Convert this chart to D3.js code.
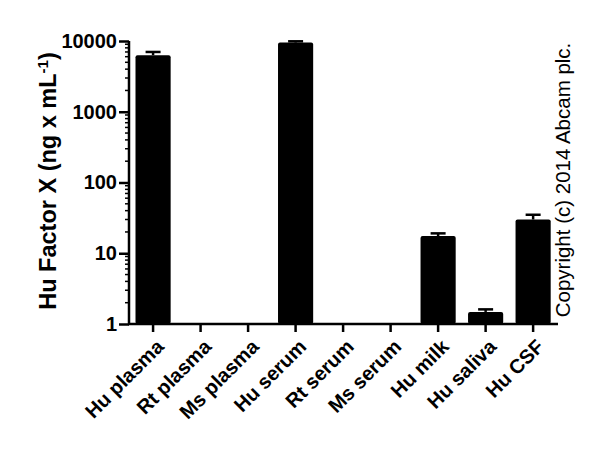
<!DOCTYPE html>
<html>
<head>
<meta charset="utf-8">
<script src="https://cdn.jsdelivr.net/npm/d3@7"></script>
<style>
  body { margin: 0; background: #fff; }
  svg { display: block; font-family: "Liberation Sans", Arial, sans-serif; }
</style>
</head>
<body>
<svg id="chart" width="600" height="452"></svg>
<script>
// data (ng/mL), null = below 1, no bar
const samples = ["Hu plasma", "Rt plasma", "Ms plasma", "Hu serum", "Rt serum", "Ms serum", "Hu milk", "Hu saliva", "Hu CSF"];
const means = [6300, null, null, 9500, null, null, 17.5, 1.48, 30];
const errs = [700, null, null, 400, null, null, 1.6, 0.13, 5];
const yTicks = [1, 10, 100, 1000, 10000];

const svg = d3.select("#chart");

const x = d3.scaleBand()
    .domain(samples)
    .range([135.5, 550.7])
    .paddingInner(0.26)
    .paddingOuter(0);

const y = d3.scaleLog()
    .domain([1, 10000])
    .range([324, 41]);

const rows = samples.map((s, i) => ({ name: s, v: means[i], e: errs[i] }))
    .filter(d => d.v != null);

// bars
svg.append("g")
    .selectAll("rect")
    .data(rows)
    .join("rect")
    .attr("x", d => x(d.name))
    .attr("y", d => y(d.v))
    .attr("width", x.bandwidth())
    .attr("height", d => y(1) - y(d.v))
    .attr("rx", 2)
    .style("fill", "#000");

// error bars, upper half only
const eb = svg.append("g").attr("stroke", "#000").attr("stroke-width", 2.5);
eb.selectAll("line.stem")
    .data(rows)
    .join("line")
    .attr("class", "stem")
    .attr("x1", d => x(d.name) + x.bandwidth() / 2)
    .attr("x2", d => x(d.name) + x.bandwidth() / 2)
    .attr("y1", d => y(d.v))
    .attr("y2", d => y(d.v + d.e));
eb.selectAll("line.cap")
    .data(rows)
    .join("line")
    .attr("class", "cap")
    .attr("x1", d => x(d.name) + x.bandwidth() / 2 - 7.5)
    .attr("x2", d => x(d.name) + x.bandwidth() / 2 + 7.5)
    .attr("y1", d => y(d.v + d.e))
    .attr("y2", d => y(d.v + d.e));

// y axis
const yAxis = svg.append("g")
    .attr("transform", "translate(129,0)")
    .call(d3.axisLeft(y).tickValues(yTicks).tickFormat(d3.format("d")).tickSize(10).tickPadding(2));
yAxis.select(".domain").attr("d", "M0,41V324").attr("stroke-width", 2.5);
yAxis.selectAll(".tick line").attr("stroke-width", 2.5);
yAxis.selectAll(".tick text")
    .style("font-size", "20px")
    .style("font-weight", "bold")
    .style("font-family", "'Liberation Sans', Arial, sans-serif")
    .attr("fill", "#000");

// minor log ticks
const minor = [];
yTicks.slice(0, -1).forEach(t => { for (let k = 2; k <= 9; k++) minor.push(t * k); });
svg.append("g")
    .selectAll("line")
    .data(minor)
    .join("line")
    .attr("x1", 125)
    .attr("x2", 129)
    .attr("y1", d => y(d))
    .attr("y2", d => y(d))
    .attr("stroke", "#000")
    .attr("stroke-width", 1.5);

// x axis
const xAxis = svg.append("g")
    .attr("transform", "translate(0,324)")
    .call(d3.axisBottom(x).tickSize(8).tickPadding(0));
xAxis.select(".domain").attr("d", "M128,0H558").attr("stroke-width", 2.5);
xAxis.selectAll(".tick line").attr("stroke-width", 2.5);
xAxis.selectAll(".tick text")
    .attr("text-anchor", "end")
    .attr("transform", "translate(7,19) rotate(-45)")
    .attr("y", 0)
    .attr("dy", "0.35em")
    .style("font-size", "20px")
    .style("font-weight", "bold")
    .style("font-family", "'Liberation Sans', Arial, sans-serif")
    .attr("fill", "#000");

// y title
const title = svg.append("text")
    .attr("transform", "translate(56,181) rotate(-90)")
    .attr("text-anchor", "middle")
    .style("font-size", "23.5px")
    .style("font-weight", "bold");
title.append("tspan").text("Hu Factor X (ng x mL");
title.append("tspan").text("-1").attr("baseline-shift", "super").style("font-size", "15px");
title.append("tspan").text(")");

// copyright
svg.append("text")
    .attr("transform", "translate(570,180) rotate(-90)")
    .attr("text-anchor", "middle")
    .style("font-size", "20.5px")
    .text("Copyright (c) 2014 Abcam plc.");
</script>
</body>
</html>
